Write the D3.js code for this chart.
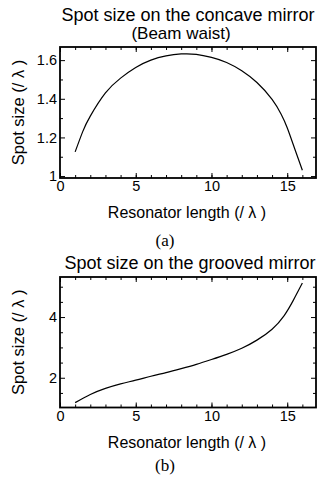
<!DOCTYPE html>
<html>
<head>
<meta charset="utf-8">
<script src="https://cdn.jsdelivr.net/npm/d3@7"></script>
<style>
  html, body { margin: 0; padding: 0; background: #fff; }
  svg { display: block; }
  text { font-family: "Liberation Sans", Arial, Helvetica, sans-serif; fill: #000; }
  .caption { font-family: "Liberation Serif", "Times New Roman", serif; }
</style>
</head>
<body>
<div id="chart"></div>
<script>
// Data: spot size (in wavelengths) vs resonator length
var lengthA = [1, 1.5, 2, 3, 4, 5, 6, 7, 8, 9, 10, 11, 12, 13, 14, 14.6, 15, 15.5, 16];
var spotA   = [1.125, 1.23, 1.31, 1.43, 1.507, 1.562, 1.60, 1.622, 1.632, 1.630, 1.614, 1.588, 1.545, 1.484, 1.397, 1.32, 1.25, 1.14, 1.03];

var lengthB = [1, 2, 3, 4, 5, 6, 7, 8, 9, 10, 11, 12, 13, 14, 14.8, 15.4, 16];
var spotB   = [1.18, 1.45, 1.65, 1.80, 1.92, 2.05, 2.17, 2.30, 2.44, 2.60, 2.77, 2.97, 3.24, 3.60, 4.05, 4.55, 5.12];

var xMajorTicks = [0, 5, 10, 15];
var xMinorTicks = d3.range(1, 17);
var yMajorTicksA = [1, 1.2, 1.4, 1.6];
var yMinorTicksA = [1.1, 1.3, 1.5];
var yMajorTicksB = [2, 4];
var yMinorTicksB = [1.5, 2.5, 3, 3.5, 4.5, 5];

var width = 326, height = 478;

var svg = d3.select("#chart").append("svg")
    .attr("width", width)
    .attr("height", height);

function drawPanel(cfg) {
    var x = d3.scaleLinear().domain([0, 16.9]).range([60, 316]);
    var y = d3.scaleLinear().domain(cfg.yDomain).range([cfg.bottom, cfg.top]);
    var g = svg.append("g");

    // minor ticks, inward, on all four sides
    g.append("g").attr("transform", "translate(0," + cfg.bottom + ")")
        .call(d3.axisBottom(x).tickValues(xMinorTicks).tickSize(-3).tickFormat(""));
    g.append("g").attr("transform", "translate(0," + cfg.top + ")")
        .call(d3.axisTop(x).tickValues(xMinorTicks).tickSize(-3).tickFormat(""));
    g.append("g").attr("transform", "translate(60,0)")
        .call(d3.axisLeft(y).tickValues(cfg.yMinor).tickSize(-3).tickFormat(""));
    g.append("g").attr("transform", "translate(316,0)")
        .call(d3.axisRight(y).tickValues(cfg.yMinor).tickSize(-3).tickFormat(""));

    // major ticks
    g.append("g").attr("class", "xaxis").attr("transform", "translate(0," + cfg.bottom + ")")
        .call(d3.axisBottom(x).tickValues(xMajorTicks).tickSize(-5).tickPadding(3).tickFormat(d3.format("d")));
    g.append("g").attr("transform", "translate(0," + cfg.top + ")")
        .call(d3.axisTop(x).tickValues(xMajorTicks).tickSize(-5).tickFormat(""));
    g.append("g").attr("class", "yaxis").attr("transform", "translate(60,0)")
        .call(d3.axisLeft(y).tickValues(cfg.yMajor).tickSize(-5).tickPadding(3).tickFormat(cfg.yFormat));
    g.append("g").attr("transform", "translate(316,0)")
        .call(d3.axisRight(y).tickValues(cfg.yMajor).tickSize(-5).tickFormat(""));

    g.selectAll(".domain").remove();
    g.selectAll(".tick line").attr("stroke", "#000").attr("stroke-width", 1);
    g.selectAll(".tick text")
        .style("font-size", "14.5px")
        .style("font-family", "'Liberation Sans', Arial, sans-serif")
        .attr("fill", "#000");

    // frame
    g.append("rect")
        .attr("x", 60).attr("y", cfg.top)
        .attr("width", 256).attr("height", cfg.bottom - cfg.top)
        .attr("fill", "none")
        .attr("stroke", "#000")
        .attr("stroke-width", 1.8);

    // curve
    var line = d3.line()
        .x(function(d) { return x(d[0]); })
        .y(function(d) { return y(d[1]); })
        .curve(d3.curveNatural);

    g.append("path")
        .datum(d3.zip(cfg.xs, cfg.ys))
        .attr("d", line)
        .attr("fill", "none")
        .attr("stroke", "#000")
        .attr("stroke-width", 1.2);

    // titles
    cfg.title.forEach(function(t, i) {
        g.append("text")
            .attr("x", cfg.titleX[i])
            .attr("y", cfg.titleY[i])
            .attr("text-anchor", "middle")
            .style("font-size", cfg.titleSize[i])
            .text(t);
    });

    g.append("text")
        .attr("transform", "translate(24," + ((cfg.top + cfg.bottom) / 2) + ") rotate(-90)")
        .attr("text-anchor", "middle")
        .style("font-size", "16.5px")
        .text("Spot size (/ λ )");

    g.append("text")
        .attr("x", 187)
        .attr("y", cfg.bottom + 40)
        .attr("text-anchor", "middle")
        .style("font-size", "16px")
        .text("Resonator length (/ λ )");

    g.append("text")
        .attr("class", "caption")
        .attr("x", 165)
        .attr("y", cfg.captionY)
        .attr("text-anchor", "middle")
        .style("font-size", "17px")
        .text(cfg.caption);
}

drawPanel({
    top: 47, bottom: 178,
    yDomain: [0.99, 1.668],
    yMajor: yMajorTicksA, yMinor: yMinorTicksA,
    yFormat: function(d) { return d === 1 ? "1" : d3.format(".1f")(d); },
    xs: lengthA, ys: spotA,
    title: ["Spot size on the concave mirror", "(Beam waist)"],
    titleX: [188, 181],
    titleY: [21, 39],
    titleSize: ["18px", "17px"],
    caption: "(a)",
    captionY: 246
});

drawPanel({
    top: 277, bottom: 407.5,
    yDomain: [1.02, 5.32],
    yMajor: yMajorTicksB, yMinor: yMinorTicksB,
    yFormat: d3.format("d"),
    xs: lengthB, ys: spotB,
    title: ["Spot size on the grooved mirror"],
    titleX: [190],
    titleY: [269],
    titleSize: ["18px"],
    caption: "(b)",
    captionY: 471
});
</script>
</body>
</html>
